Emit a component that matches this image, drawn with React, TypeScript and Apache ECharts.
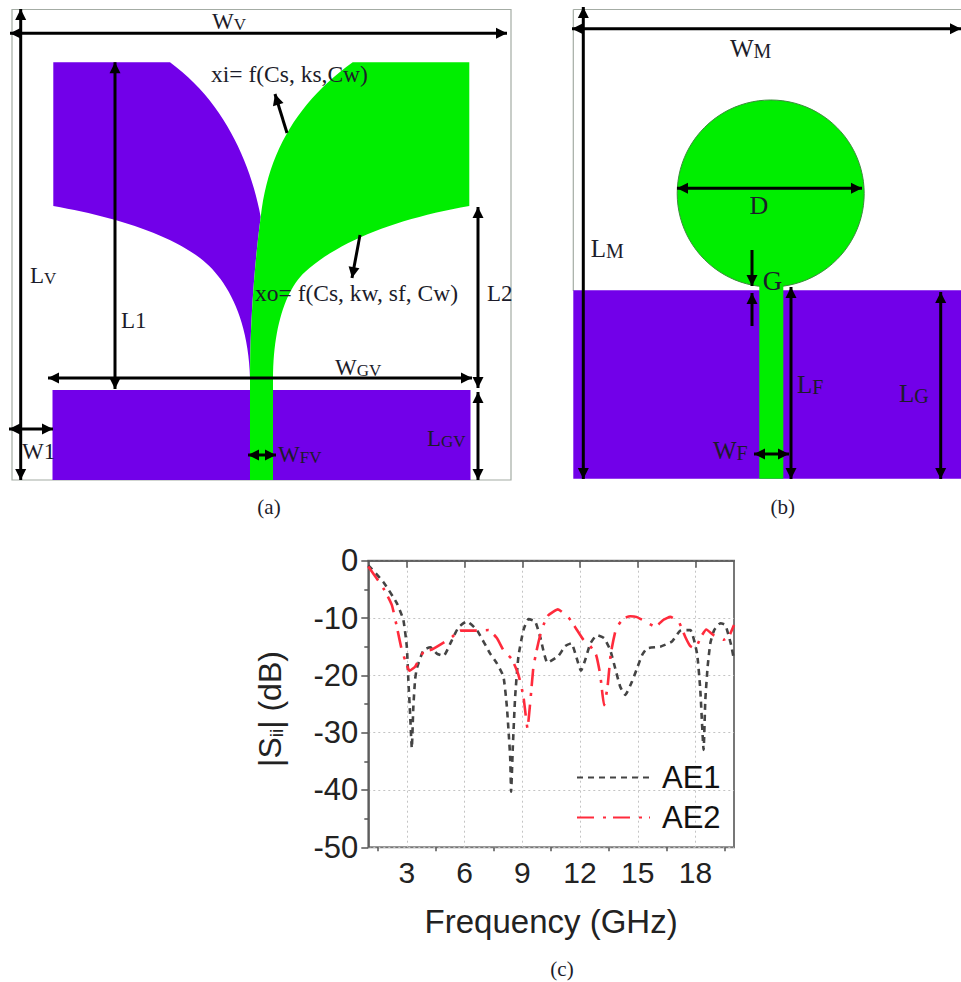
import React, { useEffect, useRef } from "react";
import * as echarts from "echarts";

const ae1Freq = [1, 1.78, 2.48, 2.82, 3.0, 3.08, 3.17, 3.26, 3.34, 3.43, 3.52, 3.87, 4.22, 4.56, 4.91, 5.35, 5.69, 6.12, 6.64, 7.33, 7.68, 8.02, 8.2, 8.37, 8.42, 8.51, 8.63, 8.8, 9.06, 9.32, 9.67, 9.93, 10.31, 10.88, 11.23, 11.55, 11.8, 12.05, 12.27, 12.53, 12.87, 13.25, 13.57, 13.83, 14.09, 14.35, 14.7, 14.96, 15.22, 15.48, 16.17, 16.78, 17.21, 17.73, 18.08, 18.25, 18.42, 18.51, 18.63, 18.77, 18.97, 19.29, 19.55, 19.85, 20];
const ae1Sii = [-0.8, -3.7, -7.4, -10.3, -15, -20.8, -26.6, -32.7, -25.5, -20.8, -18.8, -15.6, -15.1, -16.2, -16.6, -13.8, -11.6, -10.6, -12.1, -16.2, -17.9, -20.2, -25.5, -34.2, -40.3, -32.4, -23.7, -16.7, -12.1, -10.2, -10.6, -13.3, -17.8, -16.6, -14.9, -14.4, -16.7, -19.2, -17.3, -14.5, -13, -13.5, -15.6, -18.8, -22, -23.4, -21.1, -18.8, -16.5, -15.3, -15, -14.1, -12.2, -12.1, -16.2, -22.6, -33, -24.3, -18.5, -14.4, -12.1, -10.9, -11.2, -14.7, -17.3];
const ae2Freq = [1, 1.78, 2.22, 2.48, 2.74, 2.91, 3.14, 3.43, 3.87, 4.3, 4.91, 5.35, 5.78, 6.64, 7.25, 7.68, 8.02, 8.46, 8.8, 9.06, 9.27, 9.44, 9.58, 9.75, 9.93, 10.1, 10.36, 10.85, 11.4, 11.75, 12.18, 12.53, 12.84, 13.05, 13.25, 13.43, 13.6, 13.88, 14.26, 14.61, 14.92, 15.39, 15.91, 16.34, 16.69, 17.12, 17.47, 17.73, 17.99, 18.25, 18.56, 18.94, 19.46, 19.72, 20];
const ae2Sii = [-1, -4.8, -7.7, -11.5, -15.6, -17.3, -19.2, -18.5, -15.9, -15.5, -14.3, -13.3, -12.2, -12.2, -12.1, -13.5, -15.6, -17.2, -19.9, -23.7, -29.2, -23.7, -18.5, -15.6, -13, -11.2, -9.5, -8.5, -9.9, -11.6, -13.8, -14.9, -16.5, -19.9, -25.2, -22, -16.2, -11.8, -10.1, -9.7, -9.8, -10.6, -11.5, -10.3, -9.8, -10.6, -13.3, -14.9, -15.3, -13.5, -12, -13, -13.8, -13.3, -11.2];
const freqTicks = [3, 6, 9, 12, 15, 18];
const freqMinorTicks = [1.5, 4.5, 7.5, 10.5, 13.5, 16.5, 19.5];

const PURPLE = "#7200e9";
const GREEN = "#00ee00";
const FRAME = "#a4aca4";
const INK = "#000";
const TEXT = "#1c1c2a";
const SERIF = "Liberation Serif";
const SANS = "Liberation Sans";

type P = [number, number];

// Cubic Bezier segments: first point, then control, control, end for each segment.
function bez(start: P, ...segs: [P, P, P][]): P[] {
  const out: P[] = [start];
  let p0 = start;
  for (const [c1, c2, p3] of segs) {
    for (let k = 1; k <= 24; k++) {
      const t = k / 24;
      const u = 1 - t;
      out.push([
        u * u * u * p0[0] + 3 * u * u * t * c1[0] + 3 * u * t * t * c2[0] + t * t * t * p3[0],
        u * u * u * p0[1] + 3 * u * u * t * c1[1] + 3 * u * t * t * c2[1] + t * t * t * p3[1],
      ]);
    }
    p0 = p3;
  }
  return out;
}

const poly = (points: P[], fill: string) => ({ type: "polygon", shape: { points }, style: { fill } });
const rect = (x: number, y: number, width: number, height: number, fill: string, stroke?: string) => ({
  type: "rect",
  shape: { x, y, width, height },
  style: { fill, stroke: stroke || undefined, lineWidth: stroke ? 1.2 : 0 },
});

function head(tip: P, from: P, size = 11, half = 5.5) {
  const dx = tip[0] - from[0];
  const dy = tip[1] - from[1];
  const l = Math.hypot(dx, dy) || 1;
  const ux = dx / l;
  const uy = dy / l;
  return poly(
    [tip, [tip[0] - ux * size - uy * half, tip[1] - uy * size + ux * half], [tip[0] - ux * size + uy * half, tip[1] - uy * size - ux * half]],
    INK,
  );
}
function arrow(a: P, b: P, both = true, lineWidth = 3) {
  const els: any[] = [
    { type: "line", shape: { x1: a[0], y1: a[1], x2: b[0], y2: b[1] }, style: { stroke: INK, lineWidth } },
    head(b, a),
  ];
  if (both) els.push(head(a, b));
  return els;
}
function label(x: number, y: number, main: string, sub = "", size = 23, subSize = 17, align = "left") {
  const text = sub ? `{a|${main}}{b|${sub}}` : main;
  return {
    type: "text",
    z: 20,
    style: {
      x,
      y,
      text,
      fill: TEXT,
      fontFamily: SERIF,
      fontSize: size,
      textAlign: align,
      textVerticalAlign: "middle",
      rich: sub
        ? {
            a: { fontFamily: SERIF, fontSize: size, fill: TEXT },
            b: { fontFamily: SERIF, fontSize: subSize, fill: TEXT, verticalAlign: "bottom" },
          }
        : undefined,
    },
  };
}

function schematicA(): any[] {
  const purpleInner = bez([170, 62.3], [[222, 100], [250, 160], [260.7, 217]]);
  const greenUpper = bez([352.7, 62.3], [[300, 100], [268, 150], [260.7, 217]]);
  const feedLeft = bez([260.7, 217], [[255, 260], [250, 320], [250, 378]]);
  const purpleLower = bez([53.3, 206], [[110, 216], [165, 232], [200, 258]], [[225, 277], [248, 315], [250, 378]]);
  const greenRight = bez([469.3, 206], [[400, 218], [340, 240], [305, 272]], [[285, 290], [273, 330], [273, 378]]);
  return [
    rect(12, 9.5, 499, 470.5, "#fff", FRAME),
    poly([[53.3, 62.3], ...purpleInner, ...feedLeft, ...[...purpleLower].reverse()], PURPLE),
    poly([[352.7, 62.3], [469.3, 62.3], ...greenRight, ...[...feedLeft].reverse(), ...[...greenUpper].reverse()], GREEN),
    rect(52.5, 390, 418, 90, PURPLE),
    rect(250, 376, 23, 104, GREEN),
    ...arrow([10, 33.3], [507, 33.3]),
    ...arrow([20.7, 9], [20.7, 480]),
    ...arrow([115, 62.3], [115, 389]),
    ...arrow([48, 378], [472, 378]),
    ...arrow([478, 207], [478, 388]),
    ...arrow([478, 392], [478, 480]),
    ...arrow([9, 429], [53, 429]),
    ...arrow([248, 455], [276, 455]),
    ...arrow([287, 133], [275, 94], false),
    ...arrow([360, 235], [352, 278], false),
    label(212, 21, "W", "V"),
    label(211, 74, "xi= f(Cs, ks,Cw)", "", 23.5),
    label(255, 293, "xo= f(Cs, kw, sf, Cw)", "", 23.5),
    label(30, 275, "L", "V"),
    label(121, 320, "L1"),
    label(487, 293, "L2"),
    label(335, 367, "W", "GV"),
    label(427, 438, "L", "GV"),
    label(22, 451, "W1"),
    label(278, 454, "W", "FV"),
    label(269, 507, "(a)", "", 21, 17, "center"),
  ];
}

function schematicB(): any[] {
  return [
    { type: "line", shape: { x1: 573.3, y1: 9.5, x2: 961, y2: 9.5 }, style: { stroke: FRAME, lineWidth: 1.2 } },
    { type: "line", shape: { x1: 573.3, y1: 9.5, x2: 573.3, y2: 291 }, style: { stroke: FRAME, lineWidth: 1.2 } },
    { type: "circle", shape: { cx: 770.7, cy: 193.5, r: 93.5 }, style: { fill: GREEN, stroke: "#3c8c3c", lineWidth: 1 } },
    rect(573.3, 290.3, 388, 188.4, PURPLE),
    rect(759.3, 284, 24, 194.7, GREEN),
    ...arrow([583.3, 7], [583.3, 479]),
    ...arrow([572, 28.7], [961, 28.7]),
    ...arrow([677, 188.3], [862, 188.3]),
    ...arrow([752, 250], [752, 286], false),
    ...arrow([752, 326], [752, 293], false),
    ...arrow([791, 287], [791, 479]),
    ...arrow([940.7, 292], [940.7, 479]),
    ...arrow([754, 454], [789, 454]),
    label(730, 48.7, "W", "M", 25, 20),
    label(759, 205, "D", "", 26, 17, "center"),
    label(590.7, 248, "L", "M", 25, 20),
    label(762.7, 281, "G", "", 27),
    label(797, 384, "L", "F", 25, 20),
    label(899, 393, "L", "G", 25, 20),
    label(713, 450, "W", "F", 25, 20),
    label(782.7, 507, "(b)", "", 21, 17, "center"),
    label(562, 969, "(c)", "", 21, 17, "center"),
  ];
}

const zipXY = (xs: number[], ys: number[]) => xs.map((x, i) => [x, ys[i]]);

export default function App() {
  const ref = useRef<HTMLDivElement>(null);
  useEffect(() => {
    const chart = echarts.init(ref.current!, undefined, { renderer: "svg" });
    const axisLine = { show: true, lineStyle: { color: "#555", width: 1.5 } };
    const grid = { show: true, lineStyle: { color: "#c4c4c4", width: 1, type: [2, 3] } };
    chart.setOption({
      animation: false,
      backgroundColor: "#fff",
      grid: { left: 368.3, top: 560.7, width: 365.7, height: 286.6, show: true, borderColor: "#777", borderWidth: 2, backgroundColor: "transparent" },
      legend: {
        left: 571,
        top: 757,
        orient: "vertical",
        itemWidth: 73,
        itemHeight: 14,
        itemGap: 9,
        backgroundColor: "transparent",
        itemStyle: { opacity: 0 },
        textStyle: { fontFamily: SANS, fontSize: 31, color: "#111", padding: [0, 0, 0, 7] },
        data: ["AE1", "AE2"],
      },
      xAxis: [
        {
          type: "value",
          min: 1,
          max: 20,
          name: "Frequency (GHz)",
          nameLocation: "middle",
          nameGap: 58,
          nameTextStyle: { fontFamily: SANS, fontSize: 33, color: "#222" },
          axisLine,
          axisTick: { show: true, length: 7, customValues: freqTicks, lineStyle: { color: "#555", width: 1.5 } },
          axisLabel: { fontFamily: SANS, fontSize: 30, color: "#222", margin: 10, customValues: freqTicks },
          splitLine: grid,
        },
        {
          type: "value",
          min: 1,
          max: 20,
          position: "bottom",
          axisLine: { show: false },
          axisTick: { show: true, length: 4, customValues: freqMinorTicks, lineStyle: { color: "#555", width: 1.5 } },
          axisLabel: { show: false },
          splitLine: { show: false },
        },
      ],
      yAxis: {
        type: "value",
        min: -50,
        max: 0,
        interval: 10,
        name: "{a||S}{b|ii}{a|| (dB)}",
        nameLocation: "middle",
        nameGap: 82,
        nameRotate: 90,
        nameTextStyle: {
          padding: [0, 10, 0, 0],
          rich: {
            a: { fontFamily: SANS, fontSize: 32, color: "#222" },
            b: { fontFamily: SANS, fontSize: 19, color: "#222", verticalAlign: "bottom", padding: [10, 0, 0, 0] },
          },
        },
        axisLine,
        axisTick: { show: true, length: 7, lineStyle: { color: "#555", width: 1.5 } },
        minorTick: { show: true, splitNumber: 2, length: 4, lineStyle: { color: "#555", width: 1.5 } },
        axisLabel: { fontFamily: SANS, fontSize: 31, color: "#222", margin: 10 },
        splitLine: grid,
      },
      series: [
        {
          name: "AE1",
          type: "line",
          xAxisIndex: 0,
          symbol: "none",
          smooth: 0.15,
          data: zipXY(ae1Freq, ae1Sii),
          lineStyle: { color: "#444", width: 2.6, type: [6, 5] },
          itemStyle: { color: "#444", opacity: 0 },
        },
        {
          name: "AE2",
          type: "line",
          xAxisIndex: 0,
          symbol: "none",
          smooth: 0.15,
          data: zipXY(ae2Freq, ae2Sii),
          lineStyle: { color: "#ff2b3c", width: 2.6, type: [17, 9, 3, 7] },
          itemStyle: { color: "#ff2b3c", opacity: 0 },
        },
      ],
      graphic: { elements: [...schematicA(), ...schematicB()] },
    });
    return () => chart.dispose();
  }, []);
  return <div ref={ref} style={{ position: "absolute", left: 0, top: 0, width: 961, height: 982 }} />;
}
